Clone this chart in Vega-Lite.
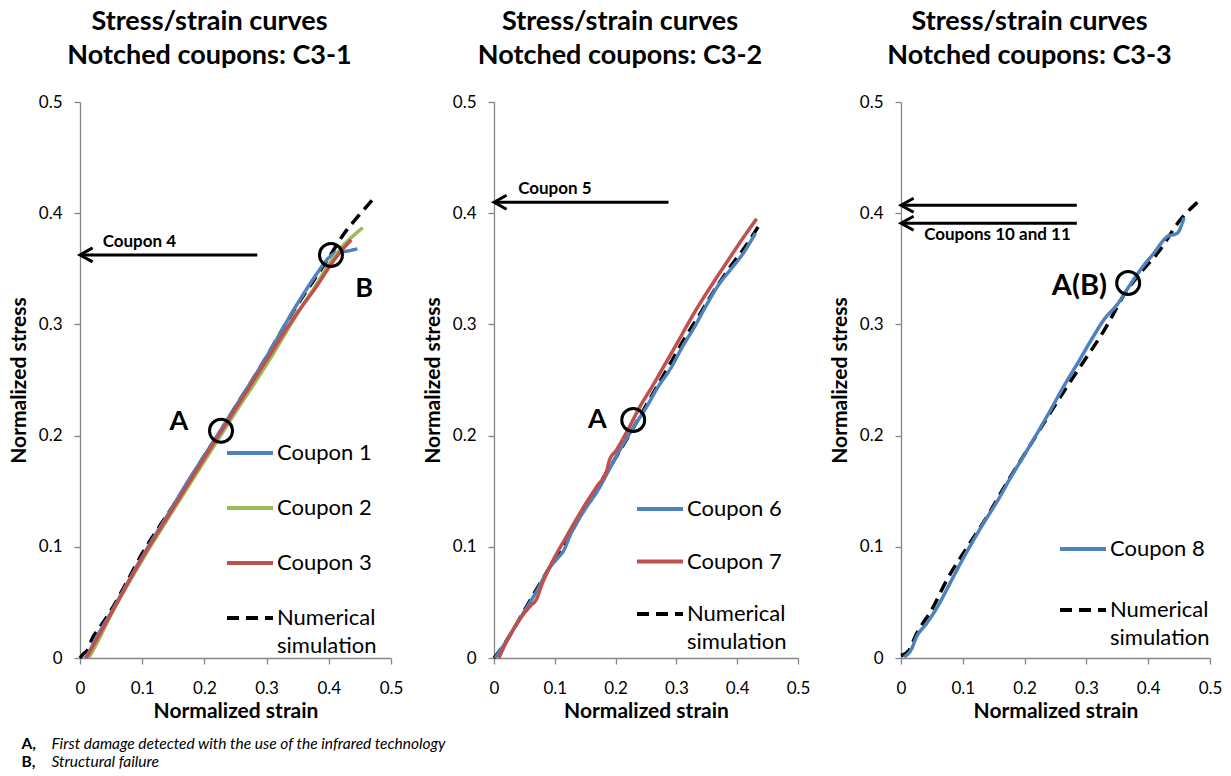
{
  "$schema": "https://vega.github.io/schema/vega-lite/v6.json",
  "background": "white",
  "padding": {"left": 8, "top": 8, "right": 5, "bottom": 4},
  "config": {
    "font": "Lato",
    "view": {"stroke": null},
    "axis": {"grid": false, "domainColor": "#868686", "tickColor": "#868686", "domainWidth": 1.3, "tickWidth": 1.3, "tickSize": 6, "labelFontSize": 17, "labelColor": "#000", "labelFont": "Lato", "labelFlush": false, "labelOverlap": false, "titleFontSize": 21, "titleFont": "Lato", "titleFontWeight": "bold", "titleColor": "#000"},
    "axisX": {"labelPadding": 16, "titlePadding": 4},
    "axisY": {"labelPadding": 12, "titlePadding": 9},
    "title": {"font": "Lato", "fontSize": 27, "fontWeight": "bold", "lineHeight": 34, "color": "#000", "dx": -26, "offset": 23, "anchor": "middle", "frame": "group"}
  },
  "datasets": {
    "c1": [
      {"series": "Numerical simulation", "strain": 0, "stress": 0},
      {"series": "Numerical simulation", "strain": 0.006, "stress": 0.004},
      {"series": "Numerical simulation", "strain": 0.012, "stress": 0.007},
      {"series": "Numerical simulation", "strain": 0.02, "stress": 0.018},
      {"series": "Numerical simulation", "strain": 0.03, "stress": 0.026},
      {"series": "Numerical simulation", "strain": 0.05, "stress": 0.043},
      {"series": "Numerical simulation", "strain": 0.075, "stress": 0.068},
      {"series": "Numerical simulation", "strain": 0.1, "stress": 0.094},
      {"series": "Numerical simulation", "strain": 0.125, "stress": 0.116},
      {"series": "Numerical simulation", "strain": 0.15, "stress": 0.137},
      {"series": "Numerical simulation", "strain": 0.175, "stress": 0.159},
      {"series": "Numerical simulation", "strain": 0.2, "stress": 0.182},
      {"series": "Numerical simulation", "strain": 0.225, "stress": 0.203},
      {"series": "Numerical simulation", "strain": 0.25, "stress": 0.226},
      {"series": "Numerical simulation", "strain": 0.275, "stress": 0.248},
      {"series": "Numerical simulation", "strain": 0.3, "stress": 0.271},
      {"series": "Numerical simulation", "strain": 0.325, "stress": 0.295},
      {"series": "Numerical simulation", "strain": 0.35, "stress": 0.318},
      {"series": "Numerical simulation", "strain": 0.375, "stress": 0.339},
      {"series": "Numerical simulation", "strain": 0.4, "stress": 0.36},
      {"series": "Numerical simulation", "strain": 0.425, "stress": 0.382},
      {"series": "Numerical simulation", "strain": 0.45, "stress": 0.399},
      {"series": "Numerical simulation", "strain": 0.47, "stress": 0.412},
      {"series": "Coupon 1", "strain": 0.008, "stress": 0},
      {"series": "Coupon 1", "strain": 0.015, "stress": 0.006},
      {"series": "Coupon 1", "strain": 0.025, "stress": 0.017},
      {"series": "Coupon 1", "strain": 0.05, "stress": 0.041},
      {"series": "Coupon 1", "strain": 0.1, "stress": 0.091},
      {"series": "Coupon 1", "strain": 0.15, "stress": 0.137},
      {"series": "Coupon 1", "strain": 0.167, "stress": 0.153},
      {"series": "Coupon 1", "strain": 0.2, "stress": 0.182},
      {"series": "Coupon 1", "strain": 0.25, "stress": 0.226},
      {"series": "Coupon 1", "strain": 0.3, "stress": 0.271},
      {"series": "Coupon 1", "strain": 0.35, "stress": 0.319},
      {"series": "Coupon 1", "strain": 0.38, "stress": 0.345},
      {"series": "Coupon 1", "strain": 0.4, "stress": 0.36},
      {"series": "Coupon 1", "strain": 0.41, "stress": 0.364},
      {"series": "Coupon 1", "strain": 0.43, "stress": 0.366},
      {"series": "Coupon 1", "strain": 0.446, "stress": 0.368},
      {"series": "Coupon 2", "strain": 0.014, "stress": 0},
      {"series": "Coupon 2", "strain": 0.025, "stress": 0.011},
      {"series": "Coupon 2", "strain": 0.05, "stress": 0.039},
      {"series": "Coupon 2", "strain": 0.1, "stress": 0.088},
      {"series": "Coupon 2", "strain": 0.15, "stress": 0.133},
      {"series": "Coupon 2", "strain": 0.2, "stress": 0.177},
      {"series": "Coupon 2", "strain": 0.25, "stress": 0.221},
      {"series": "Coupon 2", "strain": 0.3, "stress": 0.264},
      {"series": "Coupon 2", "strain": 0.35, "stress": 0.31},
      {"series": "Coupon 2", "strain": 0.38, "stress": 0.336},
      {"series": "Coupon 2", "strain": 0.4, "stress": 0.354},
      {"series": "Coupon 2", "strain": 0.42, "stress": 0.369},
      {"series": "Coupon 2", "strain": 0.44, "stress": 0.38},
      {"series": "Coupon 2", "strain": 0.4545, "stress": 0.387},
      {"series": "Coupon 3", "strain": 0.01, "stress": 0},
      {"series": "Coupon 3", "strain": 0.02, "stress": 0.01},
      {"series": "Coupon 3", "strain": 0.05, "stress": 0.04},
      {"series": "Coupon 3", "strain": 0.1, "stress": 0.09},
      {"series": "Coupon 3", "strain": 0.15, "stress": 0.135},
      {"series": "Coupon 3", "strain": 0.2, "stress": 0.18},
      {"series": "Coupon 3", "strain": 0.25, "stress": 0.224},
      {"series": "Coupon 3", "strain": 0.3, "stress": 0.268},
      {"series": "Coupon 3", "strain": 0.35, "stress": 0.311},
      {"series": "Coupon 3", "strain": 0.38, "stress": 0.334},
      {"series": "Coupon 3", "strain": 0.4, "stress": 0.351},
      {"series": "Coupon 3", "strain": 0.41, "stress": 0.359},
      {"series": "Coupon 3", "strain": 0.436, "stress": 0.376}
    ],
    "c2": [
      {"series": "Numerical simulation", "strain": 0, "stress": 0},
      {"series": "Numerical simulation", "strain": 0.01, "stress": 0.007},
      {"series": "Numerical simulation", "strain": 0.028, "stress": 0.022},
      {"series": "Numerical simulation", "strain": 0.05, "stress": 0.043},
      {"series": "Numerical simulation", "strain": 0.066, "stress": 0.058},
      {"series": "Numerical simulation", "strain": 0.1, "stress": 0.089},
      {"series": "Numerical simulation", "strain": 0.121, "stress": 0.107},
      {"series": "Numerical simulation", "strain": 0.15, "stress": 0.136},
      {"series": "Numerical simulation", "strain": 0.181, "stress": 0.163},
      {"series": "Numerical simulation", "strain": 0.2, "stress": 0.18},
      {"series": "Numerical simulation", "strain": 0.225, "stress": 0.203},
      {"series": "Numerical simulation", "strain": 0.25, "stress": 0.227},
      {"series": "Numerical simulation", "strain": 0.268, "stress": 0.244},
      {"series": "Numerical simulation", "strain": 0.29, "stress": 0.265},
      {"series": "Numerical simulation", "strain": 0.312, "stress": 0.286},
      {"series": "Numerical simulation", "strain": 0.335, "stress": 0.306},
      {"series": "Numerical simulation", "strain": 0.356, "stress": 0.325},
      {"series": "Numerical simulation", "strain": 0.389, "stress": 0.352},
      {"series": "Numerical simulation", "strain": 0.416, "stress": 0.372},
      {"series": "Numerical simulation", "strain": 0.438, "stress": 0.391},
      {"series": "Coupon 6", "strain": 0.002, "stress": 0},
      {"series": "Coupon 6", "strain": 0.02, "stress": 0.015},
      {"series": "Coupon 6", "strain": 0.05, "stress": 0.042},
      {"series": "Coupon 6", "strain": 0.07, "stress": 0.06},
      {"series": "Coupon 6", "strain": 0.09, "stress": 0.08},
      {"series": "Coupon 6", "strain": 0.105, "stress": 0.09},
      {"series": "Coupon 6", "strain": 0.115, "stress": 0.097},
      {"series": "Coupon 6", "strain": 0.125, "stress": 0.11},
      {"series": "Coupon 6", "strain": 0.15, "stress": 0.134},
      {"series": "Coupon 6", "strain": 0.17, "stress": 0.15},
      {"series": "Coupon 6", "strain": 0.19, "stress": 0.17},
      {"series": "Coupon 6", "strain": 0.21, "stress": 0.19},
      {"series": "Coupon 6", "strain": 0.23, "stress": 0.208},
      {"series": "Coupon 6", "strain": 0.25, "stress": 0.225},
      {"series": "Coupon 6", "strain": 0.27, "stress": 0.244},
      {"series": "Coupon 6", "strain": 0.29, "stress": 0.26},
      {"series": "Coupon 6", "strain": 0.31, "stress": 0.28},
      {"series": "Coupon 6", "strain": 0.33, "stress": 0.298},
      {"series": "Coupon 6", "strain": 0.35, "stress": 0.318},
      {"series": "Coupon 6", "strain": 0.37, "stress": 0.336},
      {"series": "Coupon 6", "strain": 0.39, "stress": 0.35},
      {"series": "Coupon 6", "strain": 0.41, "stress": 0.364},
      {"series": "Coupon 6", "strain": 0.43, "stress": 0.382},
      {"series": "Coupon 7", "strain": 0.008, "stress": 0},
      {"series": "Coupon 7", "strain": 0.02, "stress": 0.014},
      {"series": "Coupon 7", "strain": 0.04, "stress": 0.033},
      {"series": "Coupon 7", "strain": 0.06, "stress": 0.047},
      {"series": "Coupon 7", "strain": 0.07, "stress": 0.053},
      {"series": "Coupon 7", "strain": 0.078, "stress": 0.065},
      {"series": "Coupon 7", "strain": 0.09, "stress": 0.08},
      {"series": "Coupon 7", "strain": 0.12, "stress": 0.11},
      {"series": "Coupon 7", "strain": 0.15, "stress": 0.138},
      {"series": "Coupon 7", "strain": 0.17, "stress": 0.155},
      {"series": "Coupon 7", "strain": 0.185, "stress": 0.168},
      {"series": "Coupon 7", "strain": 0.19, "stress": 0.178},
      {"series": "Coupon 7", "strain": 0.2, "stress": 0.186},
      {"series": "Coupon 7", "strain": 0.22, "stress": 0.205},
      {"series": "Coupon 7", "strain": 0.24, "stress": 0.226},
      {"series": "Coupon 7", "strain": 0.26, "stress": 0.244},
      {"series": "Coupon 7", "strain": 0.28, "stress": 0.263},
      {"series": "Coupon 7", "strain": 0.3, "stress": 0.282},
      {"series": "Coupon 7", "strain": 0.33, "stress": 0.311},
      {"series": "Coupon 7", "strain": 0.36, "stress": 0.337},
      {"series": "Coupon 7", "strain": 0.383, "stress": 0.356},
      {"series": "Coupon 7", "strain": 0.41, "stress": 0.378},
      {"series": "Coupon 7", "strain": 0.432, "stress": 0.395}
    ],
    "c3": [
      {"series": "Numerical simulation", "strain": 0, "stress": 0.002},
      {"series": "Numerical simulation", "strain": 0.013, "stress": 0.007},
      {"series": "Numerical simulation", "strain": 0.024, "stress": 0.0205},
      {"series": "Numerical simulation", "strain": 0.051, "stress": 0.0446},
      {"series": "Numerical simulation", "strain": 0.073, "stress": 0.069},
      {"series": "Numerical simulation", "strain": 0.11, "stress": 0.102},
      {"series": "Numerical simulation", "strain": 0.138, "stress": 0.126},
      {"series": "Numerical simulation", "strain": 0.1705, "stress": 0.157},
      {"series": "Numerical simulation", "strain": 0.203, "stress": 0.186},
      {"series": "Numerical simulation", "strain": 0.241, "stress": 0.22},
      {"series": "Numerical simulation", "strain": 0.265, "stress": 0.241},
      {"series": "Numerical simulation", "strain": 0.29, "stress": 0.262},
      {"series": "Numerical simulation", "strain": 0.328, "stress": 0.294},
      {"series": "Numerical simulation", "strain": 0.366, "stress": 0.331},
      {"series": "Numerical simulation", "strain": 0.39, "stress": 0.348},
      {"series": "Numerical simulation", "strain": 0.415, "stress": 0.364},
      {"series": "Numerical simulation", "strain": 0.4528, "stress": 0.3946},
      {"series": "Numerical simulation", "strain": 0.48, "stress": 0.41},
      {"series": "Coupon 8", "strain": 0.005, "stress": 0.001},
      {"series": "Coupon 8", "strain": 0.016, "stress": 0.007},
      {"series": "Coupon 8", "strain": 0.026, "stress": 0.02},
      {"series": "Coupon 8", "strain": 0.04, "stress": 0.03},
      {"series": "Coupon 8", "strain": 0.06, "stress": 0.047},
      {"series": "Coupon 8", "strain": 0.08, "stress": 0.068},
      {"series": "Coupon 8", "strain": 0.1, "stress": 0.089},
      {"series": "Coupon 8", "strain": 0.13, "stress": 0.118},
      {"series": "Coupon 8", "strain": 0.16, "stress": 0.145},
      {"series": "Coupon 8", "strain": 0.175, "stress": 0.16},
      {"series": "Coupon 8", "strain": 0.2, "stress": 0.183},
      {"series": "Coupon 8", "strain": 0.24, "stress": 0.221},
      {"series": "Coupon 8", "strain": 0.263, "stress": 0.244},
      {"series": "Coupon 8", "strain": 0.29, "stress": 0.269},
      {"series": "Coupon 8", "strain": 0.31, "stress": 0.288},
      {"series": "Coupon 8", "strain": 0.328, "stress": 0.304},
      {"series": "Coupon 8", "strain": 0.35, "stress": 0.318},
      {"series": "Coupon 8", "strain": 0.37, "stress": 0.335},
      {"series": "Coupon 8", "strain": 0.39, "stress": 0.351},
      {"series": "Coupon 8", "strain": 0.409, "stress": 0.364},
      {"series": "Coupon 8", "strain": 0.431, "stress": 0.379},
      {"series": "Coupon 8", "strain": 0.447, "stress": 0.382},
      {"series": "Coupon 8", "strain": 0.458, "stress": 0.396}
    ]
  },
  "spacing": 16,
  "vconcat": [
    {
      "bounds": "flush",
      "spacing": 103,
      "resolve": {"scale": {"x": "independent", "y": "independent", "color": "independent", "strokeDash": "independent"}, "legend": {"color": "independent", "strokeDash": "independent"}},
      "hconcat": [
        {
          "width": 311,
          "height": 556,
          "title": {"text": ["Stress/strain curves", "Notched coupons: C3-1"]},
          "layer": [
            {
              "data": {"name": "c1"},
              "mark": {"type": "line", "strokeWidth": 3.5, "interpolate": "monotone"},
              "encoding": {
                "x": {"field": "strain", "type": "quantitative", "scale": {"domain": [0, 0.5], "nice": false, "zero": false}, "axis": {"title": "Normalized strain", "values": [0, 0.1, 0.2, 0.3, 0.4, 0.5], "format": "~g"}},
                "y": {"field": "stress", "type": "quantitative", "scale": {"domain": [0, 0.5], "nice": false, "zero": false}, "axis": {"title": "Normalized stress", "values": [0, 0.1, 0.2, 0.3, 0.4, 0.5], "format": "~g"}},
                "color": {"field": "series", "type": "nominal", "scale": {"domain": ["Coupon 1", "Coupon 2", "Coupon 3", "Numerical simulation"], "range": ["#4F81BD", "#9BBB59", "#C0504D", "#000000"]},
                  "legend": {"title": null, "orient": "none", "legendX": 145, "legendY": 326, "symbolType": "stroke", "symbolSize": 2116, "symbolStrokeWidth": 4, "labelFontSize": 22, "labelFont": "Lato", "labelColor": "#000", "labelOffset": 2, "rowPadding": 19, "padding": 0, "labelLimit": 300, "labelExpr": "datum.label == 'Numerical simulation' ? ['Numerical', 'simulation'] : datum.label", "encode": {"labels": {"update": {"lineHeight": {"value": 28}}}, "symbols": {"update": {"strokeDash": {"signal": "datum.value == 'Numerical simulation' ? [16, 13] : [1, 0]"}}}}}},
                "strokeDash": {"field": "series", "type": "nominal", "scale": {"domain": ["Coupon 1", "Coupon 2", "Coupon 3", "Numerical simulation"], "range": [[1, 0], [1, 0], [1, 0], [12, 7]]}}
              }
            },
            {
              "data": {"values": [{"strain": 0.285, "stress": 0.3625}]},
              "mark": {"type": "rule", "strokeWidth": 3, "color": "#000"},
              "encoding": {"x": {"field": "strain", "type": "quantitative"}, "x2": {"datum": 0}, "y": {"field": "stress", "type": "quantitative"}}
            },
            {
              "data": {"values": [{"strain": 0, "stress": 0.3625}]},
              "mark": {"type": "point", "shape": "M1.8,-1L0,0L1.8,1", "filled": false, "size": 196, "strokeWidth": 3, "color": "#000", "opacity": 1},
              "encoding": {"x": {"field": "strain", "type": "quantitative"}, "y": {"field": "stress", "type": "quantitative"}}
            },
            {
              "data": {"values": [{"strain": 0.0365, "stress": 0.3737, "note": "Coupon 4"}]},
              "mark": {"type": "text", "align": "left", "baseline": "middle", "fontSize": 17, "fontWeight": "bold", "color": "#000"},
              "encoding": {"x": {"field": "strain", "type": "quantitative"}, "y": {"field": "stress", "type": "quantitative"}, "text": {"field": "note"}}
            },
            {
              "data": {"values": [{"strain": 0.2267, "stress": 0.2044}, {"strain": 0.4035, "stress": 0.3624}]},
              "mark": {"type": "point", "shape": "circle", "filled": false, "size": 529, "strokeWidth": 3, "color": "#000", "opacity": 1},
              "encoding": {"x": {"field": "strain", "type": "quantitative"}, "y": {"field": "stress", "type": "quantitative"}}
            },
            {
              "data": {"values": [{"strain": 0.159, "stress": 0.2122, "note": "A"}, {"strain": 0.457, "stress": 0.332, "note": "B"}]},
              "mark": {"type": "text", "align": "center", "baseline": "middle", "fontSize": 27, "fontWeight": "bold", "color": "#000"},
              "encoding": {"x": {"field": "strain", "type": "quantitative"}, "y": {"field": "stress", "type": "quantitative"}, "text": {"field": "note"}}
            }
          ]
        },
        {
          "width": 304,
          "height": 556,
          "title": {"text": ["Stress/strain curves", "Notched coupons: C3-2"]},
          "layer": [
            {
              "data": {"name": "c2"},
              "mark": {"type": "line", "strokeWidth": 3.5, "interpolate": "monotone"},
              "encoding": {
                "x": {"field": "strain", "type": "quantitative", "scale": {"domain": [0, 0.5], "nice": false, "zero": false}, "axis": {"title": "Normalized strain", "values": [0, 0.1, 0.2, 0.3, 0.4, 0.5], "format": "~g"}},
                "y": {"field": "stress", "type": "quantitative", "scale": {"domain": [0, 0.5], "nice": false, "zero": false}, "axis": {"title": "Normalized stress", "values": [0, 0.1, 0.2, 0.3, 0.4, 0.5], "format": "~g"}},
                "color": {"field": "series", "type": "nominal", "scale": {"domain": ["Coupon 6", "Coupon 7", "Numerical simulation"], "range": ["#4F81BD", "#C0504D", "#000000"]},
                  "legend": {"title": null, "orient": "none", "legendX": 141, "legendY": 382, "symbolType": "stroke", "symbolSize": 2116, "symbolStrokeWidth": 4, "labelFontSize": 22, "labelFont": "Lato", "labelColor": "#000", "labelOffset": 2, "rowPadding": 16.5, "padding": 0, "labelLimit": 300, "labelExpr": "datum.label == 'Numerical simulation' ? ['Numerical', 'simulation'] : datum.label", "encode": {"labels": {"update": {"lineHeight": {"value": 28}}}, "symbols": {"update": {"strokeDash": {"signal": "datum.value == 'Numerical simulation' ? [16, 13] : [1, 0]"}}}}}},
                "strokeDash": {"field": "series", "type": "nominal", "scale": {"domain": ["Coupon 6", "Coupon 7", "Numerical simulation"], "range": [[1, 0], [1, 0], [12, 7]]}}
              }
            },
            {
              "data": {"values": [{"strain": 0.287, "stress": 0.4098}]},
              "mark": {"type": "rule", "strokeWidth": 3, "color": "#000"},
              "encoding": {"x": {"field": "strain", "type": "quantitative"}, "x2": {"datum": 0}, "y": {"field": "stress", "type": "quantitative"}}
            },
            {
              "data": {"values": [{"strain": 0, "stress": 0.4098}]},
              "mark": {"type": "point", "shape": "M1.8,-1L0,0L1.8,1", "filled": false, "size": 196, "strokeWidth": 3, "color": "#000", "opacity": 1},
              "encoding": {"x": {"field": "strain", "type": "quantitative"}, "y": {"field": "stress", "type": "quantitative"}}
            },
            {
              "data": {"values": [{"strain": 0.0398, "stress": 0.4216, "note": "Coupon 5"}]},
              "mark": {"type": "text", "align": "left", "baseline": "middle", "fontSize": 17, "fontWeight": "bold", "color": "#000"},
              "encoding": {"x": {"field": "strain", "type": "quantitative"}, "y": {"field": "stress", "type": "quantitative"}, "text": {"field": "note"}}
            },
            {
              "data": {"values": [{"strain": 0.229, "stress": 0.214}]},
              "mark": {"type": "point", "shape": "circle", "filled": false, "size": 529, "strokeWidth": 3, "color": "#000", "opacity": 1},
              "encoding": {"x": {"field": "strain", "type": "quantitative"}, "y": {"field": "stress", "type": "quantitative"}}
            },
            {
              "data": {"values": [{"strain": 0.17, "stress": 0.214, "note": "A"}]},
              "mark": {"type": "text", "align": "center", "baseline": "middle", "fontSize": 27, "fontWeight": "bold", "color": "#000"},
              "encoding": {"x": {"field": "strain", "type": "quantitative"}, "y": {"field": "stress", "type": "quantitative"}, "text": {"field": "note"}}
            }
          ]
        },
        {
          "width": 309,
          "height": 556,
          "title": {"text": ["Stress/strain curves", "Notched coupons: C3-3"]},
          "layer": [
            {
              "data": {"name": "c3"},
              "mark": {"type": "line", "strokeWidth": 3.5, "interpolate": "monotone"},
              "encoding": {
                "x": {"field": "strain", "type": "quantitative", "scale": {"domain": [0, 0.5], "nice": false, "zero": false}, "axis": {"title": "Normalized strain", "values": [0, 0.1, 0.2, 0.3, 0.4, 0.5], "format": "~g"}},
                "y": {"field": "stress", "type": "quantitative", "scale": {"domain": [0, 0.5], "nice": false, "zero": false}, "axis": {"title": "Normalized stress", "values": [0, 0.1, 0.2, 0.3, 0.4, 0.5], "format": "~g"}},
                "color": {"field": "series", "type": "nominal", "scale": {"domain": ["Coupon 8", "Numerical simulation"], "range": ["#4F81BD", "#000000"]},
                  "legend": {"title": null, "orient": "none", "legendX": 157, "legendY": 422, "symbolType": "stroke", "symbolSize": 2116, "symbolStrokeWidth": 4, "labelFontSize": 22, "labelFont": "Lato", "labelColor": "#000", "labelOffset": 2, "rowPadding": 25, "padding": 0, "labelLimit": 300, "labelExpr": "datum.label == 'Numerical simulation' ? ['Numerical', 'simulation'] : datum.label", "encode": {"labels": {"update": {"lineHeight": {"value": 28}}}, "symbols": {"update": {"strokeDash": {"signal": "datum.value == 'Numerical simulation' ? [16, 13] : [1, 0]"}}}}}},
                "strokeDash": {"field": "series", "type": "nominal", "scale": {"domain": ["Coupon 8", "Numerical simulation"], "range": [[1, 0], [12, 7]]}}
              }
            },
            {
              "data": {"values": [{"strain": 0.2845, "stress": 0.4072}, {"strain": 0.2845, "stress": 0.391}]},
              "mark": {"type": "rule", "strokeWidth": 3, "color": "#000"},
              "encoding": {"x": {"field": "strain", "type": "quantitative"}, "x2": {"datum": 0}, "y": {"field": "stress", "type": "quantitative"}}
            },
            {
              "data": {"values": [{"strain": 0, "stress": 0.4072}, {"strain": 0, "stress": 0.391}]},
              "mark": {"type": "point", "shape": "M1.8,-1L0,0L1.8,1", "filled": false, "size": 196, "strokeWidth": 3, "color": "#000", "opacity": 1},
              "encoding": {"x": {"field": "strain", "type": "quantitative"}, "y": {"field": "stress", "type": "quantitative"}}
            },
            {
              "data": {"values": [{"strain": 0.0375, "stress": 0.38, "note": "Coupons 10 and 11"}]},
              "mark": {"type": "text", "align": "left", "baseline": "middle", "fontSize": 17, "fontWeight": "bold", "color": "#000"},
              "encoding": {"x": {"field": "strain", "type": "quantitative"}, "y": {"field": "stress", "type": "quantitative"}, "text": {"field": "note"}}
            },
            {
              "data": {"values": [{"strain": 0.3676, "stress": 0.3372}]},
              "mark": {"type": "point", "shape": "circle", "filled": false, "size": 529, "strokeWidth": 3, "color": "#000", "opacity": 1},
              "encoding": {"x": {"field": "strain", "type": "quantitative"}, "y": {"field": "stress", "type": "quantitative"}}
            },
            {
              "data": {"values": [{"strain": 0.3334, "stress": 0.3347, "note": "A(B)"}]},
              "mark": {"type": "text", "align": "right", "baseline": "middle", "fontSize": 29, "fontWeight": "bold", "color": "#000"},
              "encoding": {"x": {"field": "strain", "type": "quantitative"}, "y": {"field": "stress", "type": "quantitative"}, "text": {"field": "note"}}
            }
          ]
        }
      ]
    },
    {
      "width": 1,
      "height": 18,
      "data": {"values": [
        {"key": "A,", "desc": "First damage detected with the use of the infrared technology"},
        {"key": "B,", "desc": "Structural failure"}
      ]},
      "layer": [
        {
          "mark": {"type": "text", "align": "left", "baseline": "middle", "fontSize": 15.5, "fontWeight": "bold", "color": "#000", "dx": -59},
          "encoding": {"y": {"field": "key", "type": "nominal", "axis": null, "scale": {"type": "point", "padding": 0}}, "text": {"field": "key"}}
        },
        {
          "mark": {"type": "text", "align": "left", "baseline": "middle", "fontSize": 15.5, "fontStyle": "italic", "color": "#000", "dx": -29},
          "encoding": {"y": {"field": "key", "type": "nominal", "axis": null, "scale": {"type": "point", "padding": 0}}, "text": {"field": "desc"}}
        }
      ]
    }
  ]
}
